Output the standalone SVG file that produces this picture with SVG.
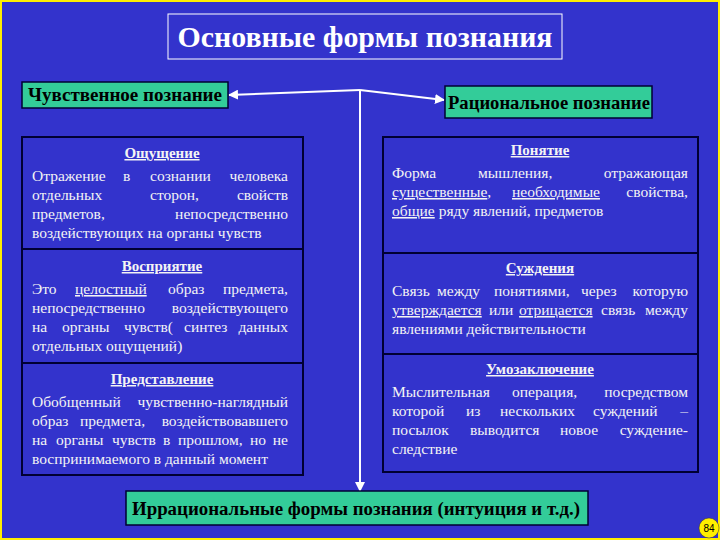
<svg xmlns="http://www.w3.org/2000/svg" width="720" height="540" viewBox="0 0 720 540">
<style>
.t{font-family:"Liberation Serif",serif;font-size:15.5px;fill:#f4f4f4}
.h{font-family:"Liberation Serif",serif;font-size:15px;font-weight:bold;fill:#f4f4f4;text-anchor:middle;text-decoration:underline}
.u{text-decoration:underline}
.g{fill:#33cc99;stroke:#000033;stroke-width:1.5}
.gt{font-family:"Liberation Serif",serif;font-weight:bold;fill:#000;font-size:18px}
.p{fill:#3333cc;stroke:#000033;stroke-width:2}
</style>
<defs>
<marker id="a" viewBox="0 0 10 10" refX="9" refY="5" markerWidth="5" markerHeight="5" orient="auto"><path d="M0,0L10,5L0,10z" fill="#fff"/></marker>
</defs>
<rect x="1" y="1" width="718" height="538" fill="#3333cc" stroke="#ffee00" stroke-width="2"/>
<g id="title"><rect x="168" y="14" width="394" height="45" fill="none" stroke="#fff" stroke-width="1"/>
<text x="365" y="47" text-anchor="middle" textLength="375" lengthAdjust="spacingAndGlyphs" style="font-family:'Liberation Serif',serif;font-size:30px;font-weight:bold;fill:#fff">Основные формы познания</text></g>
<g id="connectors" stroke="#fff" stroke-width="2" fill="none">
<line x1="360" y1="90" x2="229" y2="95" marker-end="url(#a)"/>
<line x1="360" y1="90" x2="444" y2="100" marker-end="url(#a)"/>
<line x1="360" y1="90" x2="360" y2="491" marker-end="url(#a)"/>
</g>
<g id="sense"><rect class="g" x="22" y="82" width="206" height="26"/><text class="gt" x="28" y="101" textLength="194" lengthAdjust="spacingAndGlyphs">Чувственное познание</text></g>
<g id="rational"><rect class="g" x="445" y="86" width="207" height="32"/><text class="gt" x="448" y="109" textLength="202" lengthAdjust="spacingAndGlyphs">Рациональное познание</text></g>
<g id="left">
<rect class="p" x="22" y="137" width="281" height="338"/>
<line x1="22" y1="249" x2="303" y2="249" stroke="#000033" stroke-width="2"/>
<line x1="22" y1="363" x2="303" y2="363" stroke="#000033" stroke-width="2"/>
<text class="h" x="162" y="158">Ощущение</text>
<text class="t" y="181"><tspan x="32">Отражение</tspan><tspan x="123">в</tspan><tspan x="150">сознании</tspan><tspan x="288" text-anchor="end">человека</tspan></text>
<text class="t" y="200"><tspan x="32">отдельных</tspan><tspan x="150">сторон,</tspan><tspan x="288" text-anchor="end">свойств</tspan></text>
<text class="t" y="219"><tspan x="32">предметов,</tspan><tspan x="288" text-anchor="end">непосредственно</tspan></text>
<text class="t" x="32" y="238">воздействующих на органы чувств</text>
<text class="h" x="162" y="271">Восприятие</text>
<text class="t" y="294"><tspan x="32">Это</tspan><tspan x="75" class="u">целостный</tspan><tspan x="168">образ</tspan><tspan x="288" text-anchor="end">предмета,</tspan></text>
<text class="t" y="313"><tspan x="32">непосредственно</tspan><tspan x="288" text-anchor="end">воздействующего</tspan></text>
<text class="t" y="332"><tspan x="32">на</tspan><tspan x="62">органы</tspan><tspan x="124">чувств(</tspan><tspan x="184">синтез</tspan><tspan x="288" text-anchor="end">данных</tspan></text>
<text class="t" x="32" y="351">отдельных ощущений)</text>
<text class="h" x="162" y="384">Представление</text>
<text class="t" y="407"><tspan x="32">Обобщенный</tspan><tspan x="288" text-anchor="end">чувственно-наглядный</tspan></text>
<text class="t" y="426"><tspan x="32">образ</tspan><tspan x="80">предмета,</tspan><tspan x="288" text-anchor="end">воздействовавшего</tspan></text>
<text class="t" y="445"><tspan x="32">на</tspan><tspan x="56">органы</tspan><tspan x="112">чувств</tspan><tspan x="163">в</tspan><tspan x="178">прошлом,</tspan><tspan x="250">но</tspan><tspan x="288" text-anchor="end">не</tspan></text>
<text class="t" x="32" y="464">воспринимаемого в данный момент</text>
</g>
<g id="right">
<rect class="p" x="383" y="137" width="315" height="335"/>
<line x1="383" y1="253" x2="698" y2="253" stroke="#000033" stroke-width="2"/>
<line x1="383" y1="354" x2="698" y2="354" stroke="#000033" stroke-width="2"/>
<text class="h" x="540" y="155">Понятие</text>
<text class="t" y="178"><tspan x="392">Форма</tspan><tspan x="478">мышления,</tspan><tspan x="688" text-anchor="end">отражающая</tspan></text>
<text class="t" y="197"><tspan x="392" class="u">существенные</tspan><tspan>,</tspan><tspan x="512" class="u">необходимые</tspan><tspan x="688" text-anchor="end">свойства,</tspan></text>
<text class="t" x="392" y="216"><tspan class="u">общие</tspan> ряду явлений, предметов</text>
<text class="h" x="540" y="273">Суждения</text>
<text class="t" y="296"><tspan x="392">Связь</tspan><tspan x="437">между</tspan><tspan x="494">понятиями,</tspan><tspan x="581">через</tspan><tspan x="688" text-anchor="end">которую</tspan></text>
<text class="t" y="315"><tspan x="392" class="u">утверждается</tspan><tspan x="489">или</tspan><tspan x="519" class="u">отрицается</tspan><tspan x="601">связь</tspan><tspan x="688" text-anchor="end">между</tspan></text>
<text class="t" x="392" y="334">явлениями действительности</text>
<text class="h" x="540" y="374">Умозаключение</text>
<text class="t" y="397"><tspan x="392">Мыслительная</tspan><tspan x="512">операция,</tspan><tspan x="688" text-anchor="end">посредством</tspan></text>
<text class="t" y="416"><tspan x="392">которой</tspan><tspan x="466">из</tspan><tspan x="500">нескольких</tspan><tspan x="593">суждений</tspan><tspan x="688" text-anchor="end">–</tspan></text>
<text class="t" y="435"><tspan x="392">посылок</tspan><tspan x="470">выводится</tspan><tspan x="560">новое</tspan><tspan x="688" text-anchor="end">суждение-</tspan></text>
<text class="t" x="392" y="454">следствие</text>
</g>
<g id="irrational"><rect class="g" x="126" y="491" width="462" height="34"/><text class="gt" x="132" y="515" textLength="448" lengthAdjust="spacingAndGlyphs">Иррациональные формы познания (интуиция и т.д.)</text></g>
<g id="page"><circle cx="709" cy="528" r="10" fill="#ffee00" stroke="#333" stroke-width="0.5"/><text x="709" y="532" text-anchor="middle" style="font-family:'Liberation Sans',sans-serif;font-size:10px;fill:#000">84</text></g>
</svg>
